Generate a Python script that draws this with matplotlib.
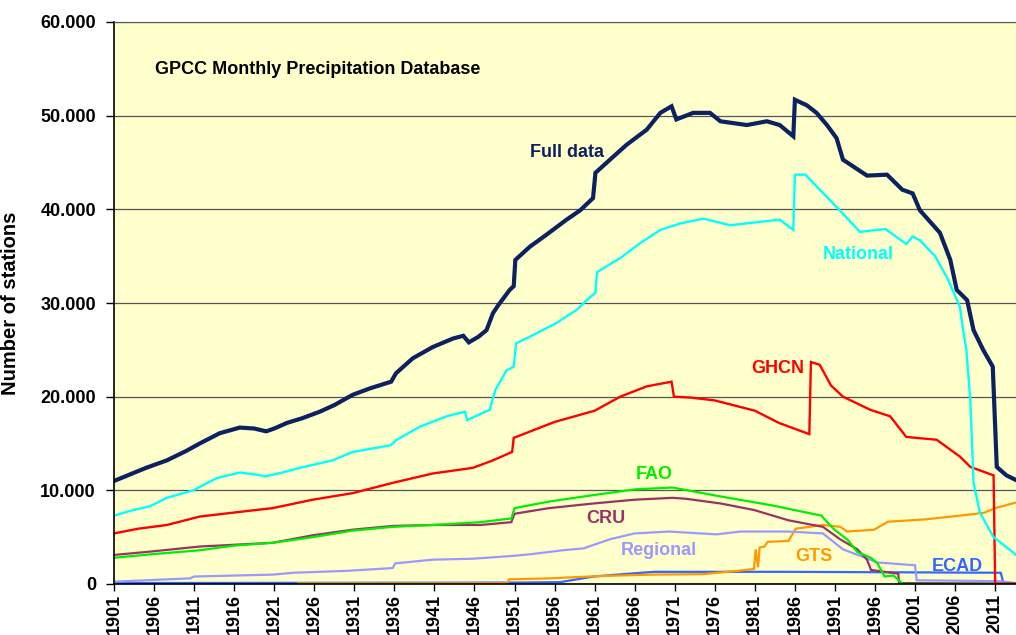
import matplotlib
matplotlib.use("Agg")
import matplotlib.pyplot as plt
import matplotlib.ticker as ticker

plt.rcParams['font.family'] = ['Liberation Sans', 'DejaVu Sans']
plt.rcParams['font.weight'] = 'bold'

# values (year, number of stations)
full_years = [1901, 1903, 1905, 1907.6, 1910, 1911.7, 1914.2, 1916.7, 1918.5, 1920, 1921, 1922.6,
              1924.5, 1926.7, 1928.5, 1930.8, 1933, 1935.6, 1936.2, 1938.3, 1940.8, 1943.3, 1944.6,
              1945.3, 1946.5, 1947.5, 1948.3, 1949, 1950.4, 1950.9, 1951.1, 1952.9, 1955, 1957.5,
              1959.2, 1960.8, 1961.1, 1963.3, 1965, 1967.5, 1969.2, 1970.6, 1971.2, 1973.3, 1975.4,
              1976.7, 1980, 1982.5, 1984.1, 1985.8, 1986.0, 1987.5, 1988.7, 1990, 1991.2, 1992.0,
              1995, 1997.5, 1999.4, 2000.7, 2001.6, 2004.1, 2005.4, 2006.2, 2007.5, 2008.3, 2009.5,
              2010.7, 2011.2, 2012.4, 2013.6]
full_vals = [11000, 11700, 12400, 13200, 14200, 15000, 16100, 16700, 16600, 16300, 16600, 17200,
             17700, 18400, 19100, 20200, 20900, 21600, 22500, 24100, 25300, 26200, 26500,
             25800, 26400, 27100, 28900, 29800, 31400, 31800, 34600, 36000, 37300, 38900,
             39900, 41200, 43900, 45600, 46900, 48500, 50300, 51000, 49600, 50300, 50300,
             49400, 49000, 49400, 49000, 47800, 51700, 51100, 50300, 49000, 47600, 45300,
             43600, 43700, 42100, 41700, 39900, 37500, 34600, 31400, 30300, 27100, 25000,
             23200, 12500, 11600, 11100]

nat_years = [1901, 1903, 1905.5, 1907.6, 1910.9, 1913.8, 1916.7, 1918.5, 1920, 1922, 1924.2, 1928.3,
             1930.8, 1935.5, 1936.3, 1939.2, 1942.5, 1944.8, 1945.1, 1947.9, 1948.6, 1950, 1950.9,
             1951.2, 1952.9, 1956.3, 1958.8, 1960, 1961.1, 1961.3, 1964.2, 1966.7, 1969.2, 1971.7,
             1974.6, 1977.9, 1982, 1984.1, 1985.8, 1986.0, 1987.3, 1989.1, 1991.6, 1994.1, 1997.3,
             1999.9, 2000.7, 2001.6, 2003.5, 2005, 2006.6, 2007.0, 2007.4, 2007.9, 2008.3, 2009.1,
             2010.8, 2012.9, 2013.6]
nat_vals = [7300, 7800, 8300, 9200, 10000, 11300, 11900, 11700, 11500, 11900, 12400, 13200,
            14100, 14800, 15400, 16800, 17900, 18400, 17500, 18600, 20700, 22800, 23200,
            25700, 26400, 27900, 29300, 30300, 31100, 33300, 34800, 36400, 37800, 38500,
            39000, 38300, 38700, 38900, 37800, 43700, 43700, 42100, 39900, 37600, 37900,
            36300, 37100, 36700, 35000, 32700, 29600, 27100, 25000, 19600, 10800, 7600,
            5000, 3600, 3100]

ghcn_years = [1901, 1904, 1907.6, 1911.7, 1916.7, 1920.8, 1925.8, 1930.8, 1935.8, 1940.8, 1945.8,
              1948.3, 1950.7, 1950.9, 1953, 1956, 1961, 1964.2, 1967.5, 1970.6, 1970.9, 1973,
              1976, 1981, 1984, 1987.8, 1988.0, 1989.1, 1990.5, 1992, 1995.4, 1997.9, 1999.9,
              2003.7, 2006.6, 2007.9, 2010.8, 2011.0, 2013.6]
ghcn_vals = [5400, 5900, 6300, 7200, 7700, 8100, 9000, 9700, 10800, 11800, 12400,
             13200, 14100, 15600, 16300, 17300, 18500, 20000, 21100, 21600, 20000, 19900,
             19600, 18500, 17200, 16000, 23700, 23400, 21200, 20000, 18600, 17900, 15700,
             15400, 13600, 12500, 11600, 0, 0]

fao_years = [1901, 1906, 1911.7, 1916, 1920.8, 1925.8, 1930.8, 1935.8, 1940.8, 1946.7, 1950.6,
             1951.0, 1955.3, 1960.9, 1966, 1970.7, 1976.7, 1983.1, 1989.3, 1990.8, 1992.6,
             1993.8, 1995.5, 1996.3, 1997.2, 1998.3, 1999.5, 2013.6]
fao_vals = [2800, 3200, 3600, 4100, 4400, 5000, 5700, 6100, 6300, 6600, 7000,
            8100, 8800, 9500, 10100, 10300, 9350, 8400, 7300, 5900, 4700,
            3400, 2800, 2200, 800, 900, 0, 0]

cru_years = [1901, 1906, 1911.7, 1920.8, 1925.8, 1930.8, 1935.8, 1940.8, 1946.7, 1950.6, 1951.0,
             1955.3, 1960.9, 1966, 1970.7, 1972.4, 1976.7, 1980.9, 1985.2, 1989.5, 1991.6,
             1993.8, 1995.0, 1995.5, 1998.9, 1999.0, 2013.6]
cru_vals = [3100, 3500, 4000, 4400, 5200, 5800, 6200, 6300, 6300, 6600, 7500,
            8100, 8600, 9000, 9200, 9100, 8600, 7900, 6800, 6100, 4800,
            3700, 2600, 1500, 1100, 100, 50]

reg_years = [1901, 1910.5, 1911, 1920.8, 1923.4, 1930, 1935.8, 1936.1, 1940.8, 1945.8, 1950.8,
             1953.2, 1957, 1959.6, 1963, 1966, 1970.3, 1976.2, 1979.2, 1985.2, 1989.5, 1992,
             1996.3, 2001.0, 2001.2, 2011.5, 2013.6]
reg_vals = [250, 600, 800, 1000, 1200, 1400, 1700, 2200, 2600, 2700, 3000,
            3200, 3600, 3800, 4800, 5400, 5600, 5300, 5600, 5600, 5400, 3700,
            2300, 2000, 400, 300, 100]

gts_years = [1924, 1950.1, 1950.3, 1955.3, 1961.7, 1968.1, 1974.5, 1978.8, 1980.9, 1981.1, 1981.4,
             1981.6, 1982.2, 1982.6, 1985.2, 1986.1, 1989.5, 1991.7, 1992.5, 1995.9, 1997.6,
             2002.3, 2006.6, 2009.6, 2011, 2013.6]
gts_vals = [60, 80, 500, 600, 850, 1000, 1050, 1400, 1600, 3700, 1800,
            3900, 4000, 4500, 4600, 5900, 6300, 6100, 5600, 5800, 6650,
            6900, 7300, 7600, 8100, 8700]

ecad_years = [1901, 1921, 1951, 1956.7, 1960.9, 1963.8, 1968.4, 1985, 2011.7, 2012, 2013.6]
ecad_vals = [100, 120, 150, 200, 800, 1000, 1300, 1300, 1200, 200, 0]

series = [
    ('Full data', full_years, full_vals, '#0B2160', 3.0, (1957.6, 46100)),
    ('National', nat_years, nat_vals, '#00FFFF', 1.7, (1993.9, 35200)),
    ('GHCN', ghcn_years, ghcn_vals, '#FF0000', 1.7, (1983.9, 23000)),
    ('FAO', fao_years, fao_vals, '#00EE00', 1.6, (1968.5, 11700)),
    ('CRU', cru_years, cru_vals, '#993366', 1.6, (1962.4, 7000)),
    ('Regional', reg_years, reg_vals, '#9999FF', 1.6, (1969.0, 3600)),
    ('GTS', gts_years, gts_vals, '#FF9900', 1.6, (1988.4, 2900)),
    ('ECAD', ecad_years, ecad_vals, '#3366FF', 1.6, (2006.3, 1900)),
]

fig = plt.figure(figsize=(10.16, 6.35), dpi=100)
ax = fig.add_axes([114 / 1016, 51 / 635, 902 / 1016, 562 / 635])
ax.set_facecolor('#FFFFCC')

for name, xs, ys, color, lw, lab in reversed(series):
    ax.plot(xs, ys, color=color, lw=lw, solid_joinstyle='miter')
    ax.text(lab[0], lab[1], name, color=color, fontsize=13, fontweight='bold',
            ha='center', va='center')

ax.text(1906.1, 54900, 'GPCC Monthly Precipitation Database', fontsize=13,
        fontweight='bold', ha='left', va='center', color='black')

ax.set_xlim(1901, 2013.6)
ax.set_ylim(0, 60000)
ax.set_xticks(range(1901, 2012, 5))
ax.set_yticks(range(0, 60001, 10000))
ax.yaxis.set_major_formatter(ticker.FuncFormatter(lambda v, p: f"{int(v):,}".replace(',', '.')))
ax.tick_params(axis='y', length=6, width=1, pad=7, labelsize=13)
ax.tick_params(axis='x', length=5, width=1, pad=2, labelsize=13, labelrotation=90)
for lbl in ax.get_xticklabels() + ax.get_yticklabels():
    lbl.set_fontweight('bold')

ax.grid(axis='y', color='#555555', lw=0.9)
ax.set_axisbelow(True)
ax.spines['right'].set_visible(False)
ax.spines['top'].set_color('#555555')
ax.spines['left'].set_linewidth(1.2)
ax.spines['bottom'].set_linewidth(1.2)

ax.set_ylabel('Number of stations', fontsize=14.5, fontweight='bold')
ax.yaxis.set_label_coords(-0.104, 0.5)

fig.savefig('out.png', dpi=100)
